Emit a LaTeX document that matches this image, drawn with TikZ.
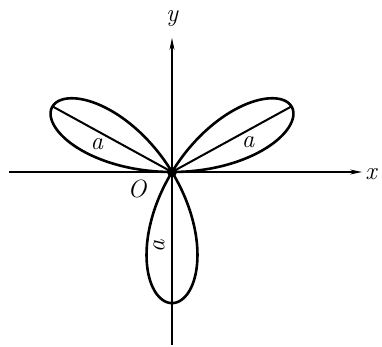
\documentclass[tikz,border=0pt]{standalone}
\usetikzlibrary{arrows.meta}
\begin{document}
\begin{tikzpicture}[x=1pt,y=1pt,
  curve/.style={line width=2.6pt, line join=round},
  chord/.style={line width=2pt},
  axis/.style={line width=1.1pt, -{Stealth[length=12pt,width=5pt]}},
  lbl/.style={font=\fontsize{25}{30}\selectfont\itshape, inner sep=0pt}]
\useasboundingbox (-172,-174) rectangle (210,172);
\coordinate (O) at (0,0);
\coordinate (xl) at (-163,0);
\coordinate (xr) at (190,0);
\coordinate (yb) at (0,-173);
\coordinate (yt) at (0,134);
\coordinate (tr) at (119.5,65.6);
\coordinate (tl) at (-119.5,65.6);
% axes
\draw[axis] (xl) -- (xr);
\draw[axis] (yb) -- (yt);
% rose
\draw[curve, yscale=0.95] plot[domain=0:180, samples=361, smooth, variable=\t]
  ({138*sin(3*\t)*cos(\t)}, {138*sin(3*\t)*sin(\t)});
% chords
\draw[chord] (O) -- (tr);
\draw[chord] (O) -- (tl);
\fill (O) circle (5);
% labels
\node[lbl] (lx) at (199,-2) {x};
\node[lbl] (ly) at (0,153) {y};
\node[lbl] (lO) at (-35,-17) {O};
\node[lbl] (la1) at (76,30) {a};
\node[lbl] (la2) at (-75,28) {a};
\node[lbl, rotate=90] (la3) at (-13,-74) {a};
\end{tikzpicture}
\end{document}
